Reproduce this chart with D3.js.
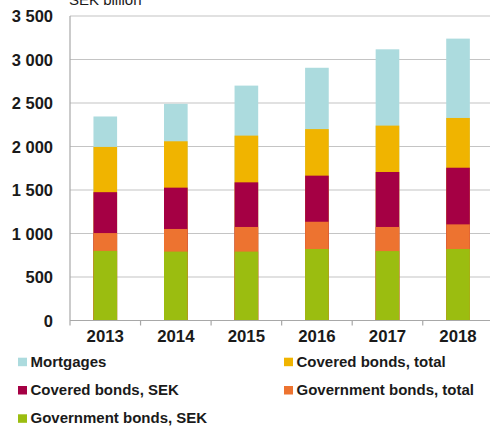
<!DOCTYPE html>
<html>
<head>
<meta charset="utf-8">
<script src="https://cdn.jsdelivr.net/npm/d3@7"></script>
<style>
  html, body { margin: 0; padding: 0; background: #fff; }
  svg { display: block; font-family: "Liberation Sans", Arial, sans-serif; }
</style>
</head>
<body>
<svg id="chart" width="490" height="426"></svg>
<script>
// Holdings per year, SEK billion. Each series is drawn from zero, tallest first.
const years = ["2013", "2014", "2015", "2016", "2017", "2018"];
const mortgages        = [2345, 2490, 2700, 2905, 3117, 3240];
const coveredTotal     = [1995, 2060, 2125, 2200, 2240, 2328];
const coveredSEK       = [1475, 1527, 1588, 1665, 1707, 1756];
const governmentTotal  = [1005, 1052, 1075, 1135, 1075, 1105];
const governmentSEK    = [800, 792, 792, 822, 798, 822];
const yTicks = [0, 500, 1000, 1500, 2000, 2500, 3000, 3500];

const seriesNames  = ["Mortgages", "Covered bonds, total", "Covered bonds, SEK",
                      "Government bonds, total", "Government bonds, SEK"];
const seriesValues = [mortgages, coveredTotal, coveredSEK, governmentTotal, governmentSEK];
const seriesColors = ["#acdbde", "#f0b400", "#a50044", "#ed7330", "#9bbd10"];

const svg = d3.select("#chart");
const plotLeft = 70, plotRight = 493.3, plotTop = 16, plotBottom = 320.5;

const x = d3.scaleBand().domain(years).range([plotLeft, plotRight]).padding(0);
const y = d3.scaleLinear().domain([0, 3500]).range([plotBottom, plotTop]);
const barW = x.bandwidth() * 0.335;

// horizontal gridlines
svg.append("g").selectAll("line").data(yTicks.slice(1)).join("line")
  .attr("x1", plotLeft).attr("x2", 490)
  .attr("y1", d => y(d)).attr("y2", d => y(d))
  .attr("stroke", "#c4c4c4").attr("stroke-width", 1.2);

// bars
seriesValues.forEach((vals, i) => {
  svg.append("g").selectAll("rect").data(years).join("rect")
    .attr("x", d => x(d) + x.bandwidth() / 2 - barW / 2)
    .attr("width", barW)
    .attr("y", (d, j) => y(vals[j]))
    .attr("height", (d, j) => y(0) - y(vals[j]))
    .attr("fill", seriesColors[i]);
});

// axis lines
svg.append("line").attr("x1", plotLeft).attr("x2", plotLeft).attr("y1", plotTop).attr("y2", plotBottom + 5)
  .attr("stroke", "#a8a8a8").attr("stroke-width", 1.2);
svg.append("line").attr("x1", plotLeft).attr("x2", 490).attr("y1", plotBottom).attr("y2", plotBottom)
  .attr("stroke", "#a8a8a8").attr("stroke-width", 1.2);
svg.append("g").selectAll("line").data(years.slice(1)).join("line")
  .attr("x1", d => x(d)).attr("x2", d => x(d))
  .attr("y1", plotBottom).attr("y2", plotBottom + 5)
  .attr("stroke", "#a8a8a8").attr("stroke-width", 1.2);

// y tick labels
const fmt = v => d3.format(",")(v).replace(/,/g, " ");
svg.append("g").selectAll("text").data(yTicks).join("text")
  .attr("x", 53).attr("y", d => y(d) + 6)
  .attr("text-anchor", "end")
  .attr("font-size", 16.5).attr("font-weight", "bold").attr("fill", "#1a1a1a")
  .text(fmt);

// x tick labels
svg.append("g").selectAll("text").data(years).join("text")
  .attr("x", d => x(d) + x.bandwidth() / 2).attr("y", 341.7)
  .attr("text-anchor", "middle")
  .attr("font-size", 16.8).attr("font-weight", "bold").attr("fill", "#1a1a1a")
  .text(d => d);

// unit label
svg.append("text").attr("x", 69).attr("y", 5)
  .attr("font-size", 15).attr("fill", "#1a1a1a").text("SEK billion");

// legend
const legX = [18, 284], legY = [366.7, 395, 423.3];
const leg = svg.append("g").selectAll("g").data(seriesNames).join("g")
  .attr("transform", (d, i) => `translate(${legX[i % 2]},${legY[Math.floor(i / 2)]})`);
leg.append("rect").attr("x", 0).attr("y", -9).attr("width", 9).attr("height", 8.5)
  .attr("fill", (d, i) => seriesColors[i]);
leg.append("text").attr("x", 12.5).attr("y", 0)
  .attr("font-size", 15).attr("font-weight", "bold").attr("fill", "#1a1a1a")
  .text(d => d);
</script>
</body>
</html>
